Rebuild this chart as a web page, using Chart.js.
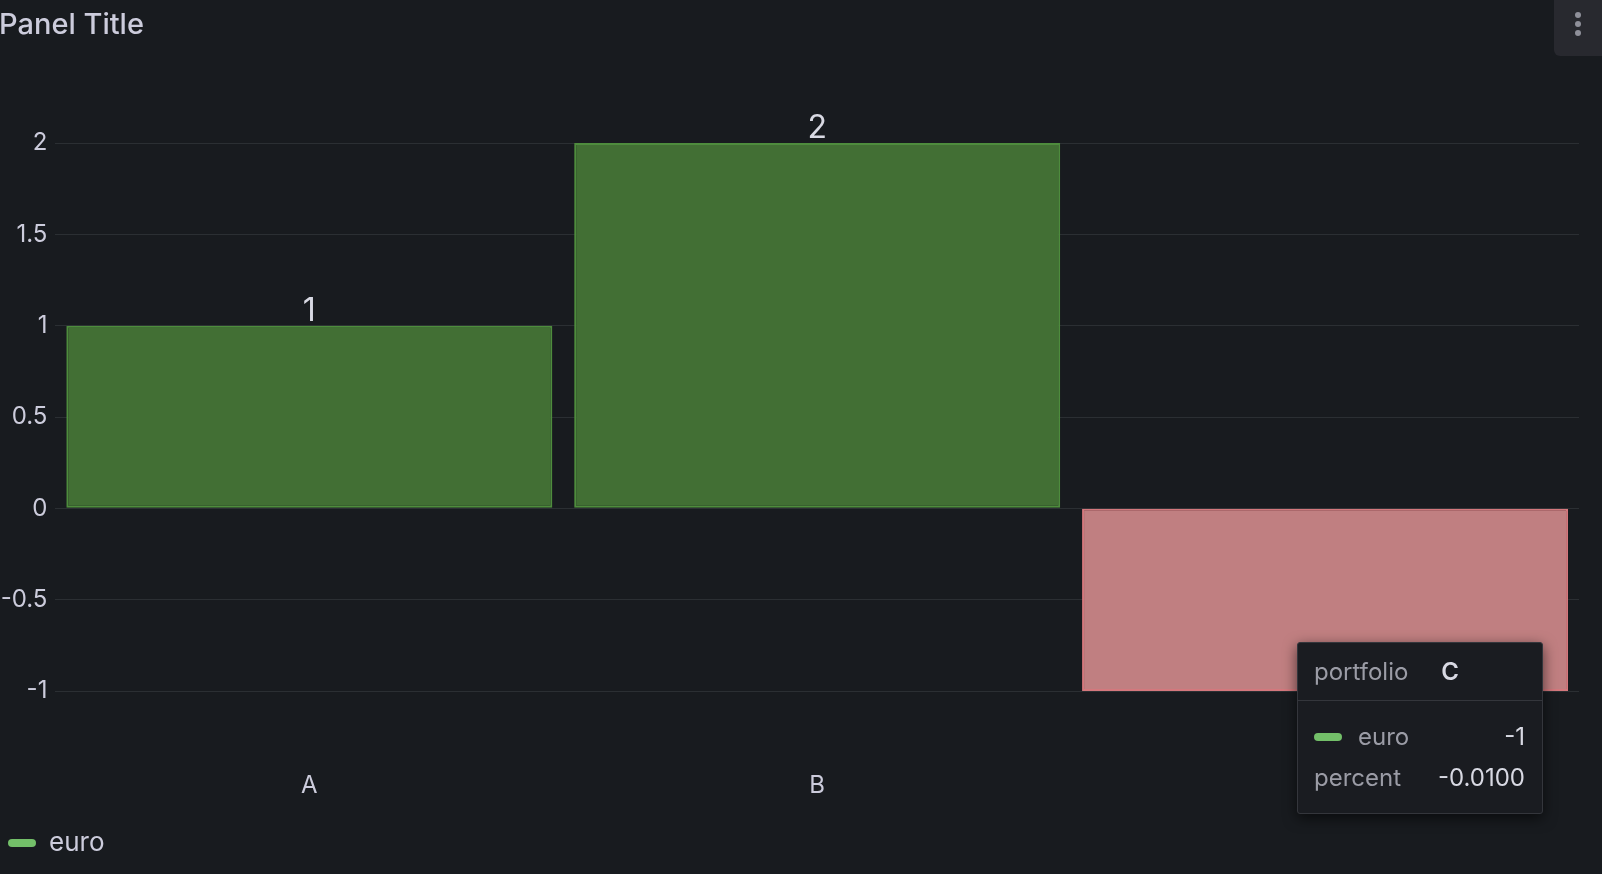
<!DOCTYPE html>
<html>
<head>
<meta charset="utf-8">
<title>Panel Title</title>
<script src="https://cdn.jsdelivr.net/npm/chart.js@4.4.0/dist/chart.umd.min.js"></script>
<style>
    html, body { margin: 0; padding: 0; background: #181b1f; overflow: hidden; }
    body { width: 1602px; height: 874px; position: relative; font-family: 'Inter', sans-serif; }
    #chart { position: absolute; left: 0; top: 0; }
    .panel-title {
        position: absolute; left: -1px; top: 10px;
        font-size: 29px; line-height: 28px; font-weight: 500; color: #ccccdc;
    }
    .panel-menu {
        position: absolute; left: 1554px; top: 0; width: 48px; height: 56px;
        background: #28292f; border-bottom-left-radius: 6px;
    }
    .panel-menu span {
        position: absolute; left: 21px; width: 6px; height: 6px; border-radius: 3px; background: #8f909a;
    }
    .tooltip {
        position: absolute; left: 1297px; top: 642px; width: 246px;
        box-sizing: border-box; background: #1a1c21; border: 1px solid #34363c; border-radius: 3px;
        box-shadow: 0 4px 14px rgba(0, 0, 0, 0.6); font-size: 24px; color: #d8d9e3;
    }
    .tooltip .head {
        height: 57px; padding: 0 16px; display: flex; align-items: center; gap: 33px;
        border-bottom: 1px solid #34363c;
    }
    .tooltip .head b { font-weight: 600; }
    .tooltip .body { padding: 15px 17px 15px 16px; }
    .tooltip .row { height: 41px; display: flex; align-items: center; justify-content: space-between; }
    .tooltip .label { color: #9b9ca6; display: flex; align-items: center; }
    .tooltip .swatch { width: 28px; height: 8px; border-radius: 4px; margin-right: 16px; }
</style>
</head>
<body>
<canvas id="chart" width="1602" height="874"></canvas>
<div class="panel-title">Panel Title</div>
<div class="panel-menu"><span style="top:12px"></span><span style="top:21px"></span><span style="top:30px"></span></div>
<div class="tooltip" id="tooltip"></div>
<script>
// Data
const portfolios = ['A', 'B', 'C'];
const euroValues = [1, 2, -1];
const percentValues = [0.01, 0.02, -0.01];
const yTicks = [-1, -0.5, 0, 0.5, 1, 1.5, 2];
const hoveredIndex = 2;

document.addEventListener('DOMContentLoaded', () => {
    const textColor = '#ccccdc';
    const gridColor = 'rgba(240, 250, 255, 0.09)';
    const seriesColor = '#73bf69';

    Chart.defaults.color = textColor;
    Chart.defaults.font.family = "'Inter', sans-serif";

    // Positive bars green, negative bars red (value-based colouring)
    const fillColors = euroValues.map(v => (v >= 0 ? '#426f34' : '#c07f81'));
    const lineColors = euroValues.map(v => (v >= 0 ? '#4e8c3d' : '#d4787d'));

    // Draw the value text above / below each bar
    const valueLabels = {
        id: 'valueLabels',
        afterDatasetsDraw(chart) {
            const { ctx } = chart;
            const meta = chart.getDatasetMeta(0);
            ctx.save();
            ctx.font = "32px 'Inter', sans-serif";
            ctx.fillStyle = '#d8d9e3';
            ctx.textAlign = 'center';
            meta.data.forEach((bar, i) => {
                const v = euroValues[i];
                if (v >= 0) {
                    ctx.textBaseline = 'alphabetic';
                    ctx.fillText(String(v), bar.x, bar.y - 5);
                } else {
                    ctx.textBaseline = 'top';
                    ctx.fillText(String(v), bar.x, bar.y + 6);
                }
            });
            ctx.restore();
        }
    };

    new Chart(document.getElementById('chart'), {
        type: 'bar',
        data: {
            labels: portfolios,
            datasets: [{
                label: 'euro',
                data: euroValues,
                backgroundColor: fillColors,
                borderColor: lineColors,
                borderWidth: 2,
                borderSkipped: false,
                categoryPercentage: 1,
                barPercentage: 0.957,
            }]
        },
        options: {
            responsive: false,
            animation: false,
            devicePixelRatio: 1,
            layout: { padding: { top: 143, right: 23, bottom: 8, left: 0 } },
            plugins: {
                tooltip: { enabled: false },
                legend: {
                    position: 'bottom',
                    align: 'start',
                    labels: {
                        color: textColor,
                        font: { size: 26 },
                        boxWidth: 28,
                        boxHeight: 8,
                        padding: 8,
                        useBorderRadius: true,
                        borderRadius: 4,
                        generateLabels: () => [{
                            text: 'euro',
                            fillStyle: seriesColor,
                            strokeStyle: seriesColor,
                            lineWidth: 0,
                            fontColor: textColor,
                            borderRadius: 4,
                            datasetIndex: 0,
                        }]
                    }
                }
            },
            scales: {
                x: {
                    grid: { display: false, drawTicks: false },
                    border: { display: false },
                    ticks: { font: { size: 24 }, color: textColor, padding: 80 },
                    afterFit: (scale) => { scale.height = 131; }
                },
                y: {
                    min: yTicks[0],
                    max: yTicks[yTicks.length - 1],
                    grid: { color: gridColor, lineWidth: 1, drawTicks: false },
                    border: { display: false },
                    ticks: {
                        font: { size: 24 },
                        color: textColor,
                        padding: 8,
                        callback: (value) => String(value),
                    },
                    afterBuildTicks: (scale) => { scale.ticks = yTicks.map(v => ({ value: v })); },
                    afterFit: (scale) => { scale.width = 55.4; }
                }
            }
        },
        plugins: [valueLabels]
    });

    // Static hover tooltip, as in the screenshot
    const tip = document.getElementById('tooltip');
    tip.innerHTML = `
        <div class="head"><span class="label">portfolio</span><b>${portfolios[hoveredIndex]}</b></div>
        <div class="body">
            <div class="row"><span class="label"><span class="swatch" style="background:${seriesColor}"></span>euro</span><span>${euroValues[hoveredIndex]}</span></div>
            <div class="row"><span class="label">percent</span><span>${percentValues[hoveredIndex].toFixed(4)}</span></div>
        </div>`;
});
</script>
</body>
</html>
